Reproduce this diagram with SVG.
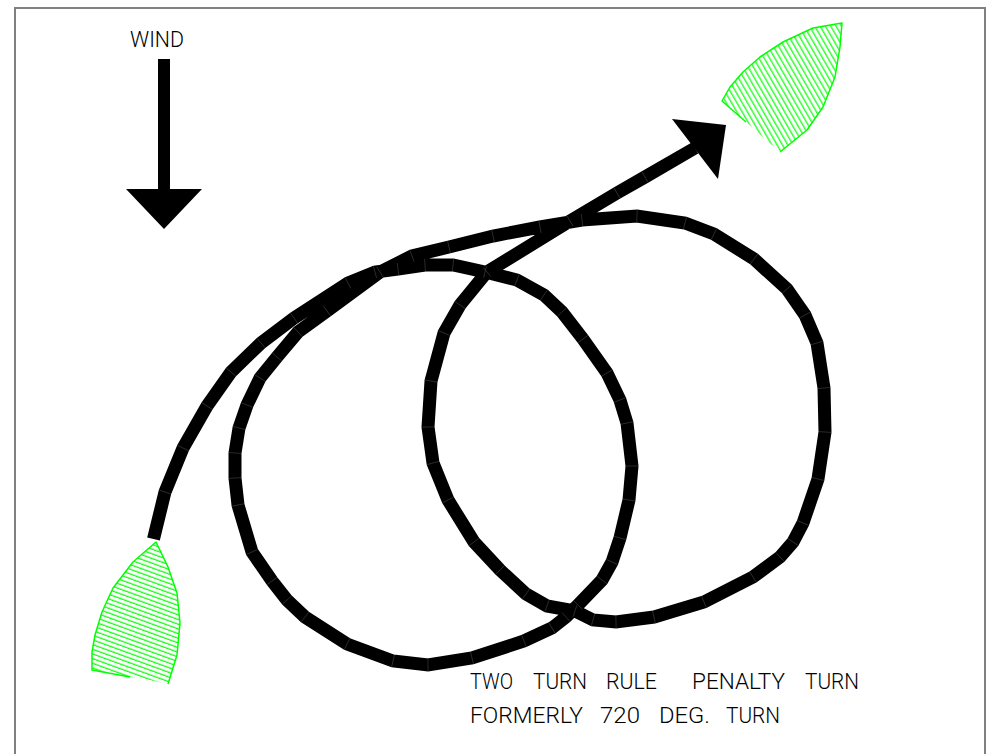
<svg xmlns="http://www.w3.org/2000/svg" width="990" height="754" viewBox="0 0 990 754">
<style>
.t{font-family:Roboto,"Liberation Sans",Arial,sans-serif;font-weight:300;font-size:22.5px;fill:#000}
.hull{stroke:#00ff00;stroke-width:1.5;fill:none;stroke-linejoin:round}
.track{fill:none;stroke:#000;stroke-width:13;stroke-linejoin:miter;stroke-linecap:butt;marker-mid:url(#seam)}
</style>
<defs>
<marker id="seam" markerUnits="userSpaceOnUse" markerWidth="14" markerHeight="14" refX="7" refY="7" orient="auto" overflow="visible"><line x1="7" y1="1" x2="7" y2="13" stroke="#505050" stroke-width="0.5"/></marker>
<pattern id="h1" patternUnits="userSpaceOnUse" width="8" height="4.6" patternTransform="rotate(60)"><line x1="0" y1="2" x2="8" y2="2" stroke="#00ff00" stroke-width="1.2"/></pattern>
<pattern id="h2" patternUnits="userSpaceOnUse" width="8" height="4.4" patternTransform="rotate(20)"><line x1="0" y1="2" x2="8" y2="2" stroke="#00ff00" stroke-width="1.2"/></pattern>
</defs>
<rect width="990" height="754" fill="#fff"/>
<rect id="frame" x="15" y="8" width="970" height="760" fill="none" stroke="#808080" stroke-width="2"/>
<g id="wind">
<text class="t" x="130" y="47"><tspan textLength="54" lengthAdjust="spacingAndGlyphs">WIND</tspan></text>
<polygon points="158,59 170,59 170,189 202,189 164,229 126,189 158,189" fill="#000"/>
</g>
<g id="boat-start">
<polygon points="156,542 133,562 113,588 102,612 95,635 92,652 92,670 130,677 145,679 168,684 177,655 180,623 177,593 168,567" fill="url(#h2)"/>
<polyline class="hull" points="130,677 92,670 92,652 95,635 102,612 113,588 133,562 156,542 168,567 177,593 180,623 177,655 168,684"/>
</g>
<g id="boat-end">
<polygon points="842,23 813,28 783,42 760,57 743,72 730,87 722,101 752,127 764,138 780,152 807,130 823,107 835,77 840,47" fill="url(#h1)"/>
<polyline class="hull" points="746,122 722,101 730,87 743,72 760,57 783,42 813,28 842,23 840,47 835,77 823,107 807,130 780,152"/>
</g>
<g id="connectors">
<polyline class="track" points="153.5,539 165,492 183,448 207,406 231,372 261,343 294,318 348,283 375,272 398,269 425,265 453,265 485,272 517,280 544,295 562,312 583,339 607,373 620,400 627,423 632,466 629,500 620,538 612,562 602,580 578,605 566,617 552,628 524,641 472,658 428,665 393,661 347,644 305,617 287,600 272,581 252,552 238,505 235,478 235,453 239,428 247,405 260,378 277,357 298,332 327,311 380,272 412,256 449,247 493,236 540,227 582,220 637,216 685,223 714,234 754,259 787,289 805,315 817,343 824,388 825,432 818,479 803,523 793,542 780,557 753,577 704,602 654,617 616,622 593,620 575,611 547,606 526,594 500,570 474,542 448,500 433,463 428,427 431,381 444,333 460,305 487,272 570,221 617,193 645,177 695,148"/>
<polygon points="672,119 726,125 718,179" fill="#000"/>
</g>
<g id="caption">
<text class="t" y="689"><tspan x="470" textLength="43" lengthAdjust="spacingAndGlyphs">TWO</tspan> <tspan x="533" textLength="54" lengthAdjust="spacingAndGlyphs">TURN</tspan> <tspan x="606" textLength="51" lengthAdjust="spacingAndGlyphs">RULE</tspan> <tspan x="692" textLength="93" lengthAdjust="spacingAndGlyphs">PENALTY</tspan> <tspan x="805" textLength="54" lengthAdjust="spacingAndGlyphs">TURN</tspan></text>
<text class="t" y="723"><tspan x="470" textLength="113" lengthAdjust="spacingAndGlyphs">FORMERLY</tspan> <tspan x="600" textLength="40" lengthAdjust="spacingAndGlyphs">720</tspan> <tspan x="659" textLength="51" lengthAdjust="spacingAndGlyphs">DEG.</tspan> <tspan x="726" textLength="54" lengthAdjust="spacingAndGlyphs">TURN</tspan></text>
</g>
</svg>
